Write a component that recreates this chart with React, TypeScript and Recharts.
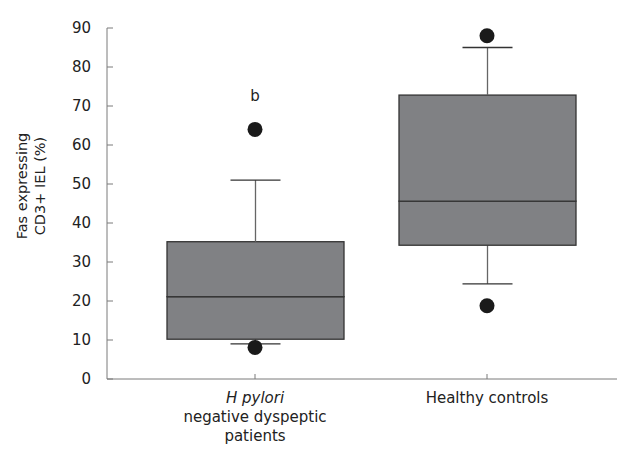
import {
  ComposedChart,
  Bar,
  Scatter,
  XAxis,
  YAxis,
  Label,
} from "recharts";

const groups = ["hp", "hc"];
const groupLabels = [["H pylori", "negative dyspeptic", "patients"], ["Healthy controls"]];
const italicFirstLine = [true, false];
const mins = [9.0, 24.4];
const q1s = [10.2, 34.3];
const medians = [21.1, 45.6];
const q3s = [35.2, 72.8];
const maxs = [51.0, 85.0];
const outHigh = [64.0, 88.0];
const outLow = [8.1, 18.8];
const marks = ["b", ""];
const yTicks = [0, 10, 20, 30, 40, 50, 60, 70, 80, 90];

const FONT = "'DejaVu Sans', Verdana, sans-serif";
const BOX_FILL = "#808184";
const DARK = "#333333";
const AXIS = "#7a7a7a";

const data = groups.map((g, i) => ({
  name: g,
  idx: i,
  base: mins[i],
  lowW: q1s[i] - mins[i],
  lowBox: medians[i] - q1s[i],
  highBox: q3s[i] - medians[i],
  highW: maxs[i] - q3s[i],
  outHigh: outHigh[i],
  outLow: outLow[i],
  mark: marks[i],
}));

const CAP = 25;

function LowWhisker(props: any) {
  const { x, y, width, height } = props;
  const cx = x + width / 2;
  return (
    <g>
      <line x1={cx} x2={cx} y1={y} y2={y + height} stroke="#666" strokeWidth={1.3} />
      <line x1={cx - CAP} x2={cx + CAP} y1={y + height} y2={y + height} stroke={DARK} strokeWidth={1.3} />
    </g>
  );
}

function HighWhisker(props: any) {
  const { x, y, width, height } = props;
  const cx = x + width / 2;
  return (
    <g>
      <line x1={cx} x2={cx} y1={y} y2={y + height} stroke="#666" strokeWidth={1.3} />
      <line x1={cx - CAP} x2={cx + CAP} y1={y} y2={y} stroke={DARK} strokeWidth={1.3} />
    </g>
  );
}

function BoxPart(props: any) {
  const { x, y, width, height } = props;
  return <rect x={x} y={y} width={width} height={height} fill={BOX_FILL} stroke={DARK} strokeWidth={1.3} />;
}

function Dot(props: any) {
  const { cx, cy, payload } = props;
  return (
    <g>
      <circle cx={cx} cy={cy} r={7.5} fill="#1a1a1a" />
      {payload && payload.mark ? (
        <text x={cx} y={cy - 28} textAnchor="middle" fontFamily={FONT} fontSize={15} fill="#222">
          {payload.mark}
        </text>
      ) : null}
    </g>
  );
}

function LowDot(props: any) {
  const { cx, cy } = props;
  return <circle cx={cx} cy={cy} r={7.5} fill="#1a1a1a" />;
}

function YTick(props: any) {
  const { x, y, payload } = props;
  return (
    <g>
      <line x1={x} x2={x + 6} y1={y} y2={y} stroke={AXIS} />
      <text x={x - 16} y={y} dy="0.35em" textAnchor="end" fontFamily={FONT} fontSize={15} fill="#222">
        {payload.value}
      </text>
    </g>
  );
}

function XTick(props: any) {
  const { x, y, index } = props;
  const lines = groupLabels[index] || [];
  return (
    <g>
      <line x1={x} x2={x} y1={y} y2={y - 5} stroke={AXIS} />
      <text textAnchor="middle" fontFamily={FONT} fontSize={15} fill="#222">
        {lines.map((l, k) => (
          <tspan
            key={k}
            x={x}
            y={y + 24 + k * 19}
            fontStyle={k === 0 && italicFirstLine[index] ? "italic" : "normal"}
          >
            {l}
          </tspan>
        ))}
      </text>
    </g>
  );
}

function YLabel() {
  return (
    <g>
      <text
        transform="rotate(-90, 22, 186)"
        x={22}
        y={186}
        textAnchor="middle"
        dominantBaseline="central"
        fontFamily={FONT}
        fontSize={14.5}
        fill="#222"
      >
        Fas expressing
      </text>
      <text
        transform="rotate(-90, 40, 186)"
        x={40}
        y={186}
        textAnchor="middle"
        dominantBaseline="central"
        fontFamily={FONT}
        fontSize={14.5}
        fill="#222"
      >
        CD3+ IEL (%)
      </text>
    </g>
  );
}

export default function App() {
  return (
    <div style={{ position: "absolute", left: 0, top: 0, background: "#fff" }}>
      <ComposedChart
        width={617}
        height={452}
        data={data}
        margin={{ top: 28, right: 0, bottom: 0, left: 0 }}
        barSize={177}
      >
        <XAxis
          dataKey="name"
          type="category"
          padding={{ left: 32, right: 14 }}
          tickLine={false}
          tickSize={0}
          tickMargin={0}
          tick={<XTick />}
          stroke={AXIS}
          height={73}
          interval={0}
        />
        <YAxis
          type="number"
          domain={[0, 90]}
          ticks={yTicks}
          tickLine={false}
          tickSize={0}
          tickMargin={0}
          tick={<YTick />}
          stroke={AXIS}
          width={107}
          interval={0}
        >
          <Label content={<YLabel />} />
        </YAxis>
        <Bar dataKey="base" stackId="a" fill="transparent" isAnimationActive={false} />
        <Bar dataKey="lowW" stackId="a" shape={<LowWhisker />} isAnimationActive={false} />
        <Bar dataKey="lowBox" stackId="a" shape={<BoxPart />} isAnimationActive={false} />
        <Bar dataKey="highBox" stackId="a" shape={<BoxPart />} isAnimationActive={false} />
        <Bar dataKey="highW" stackId="a" shape={<HighWhisker />} isAnimationActive={false} />
        <Scatter dataKey="outHigh" shape={<Dot />} isAnimationActive={false} />
        <Scatter dataKey="outLow" shape={<LowDot />} isAnimationActive={false} />
      </ComposedChart>
    </div>
  );
}
